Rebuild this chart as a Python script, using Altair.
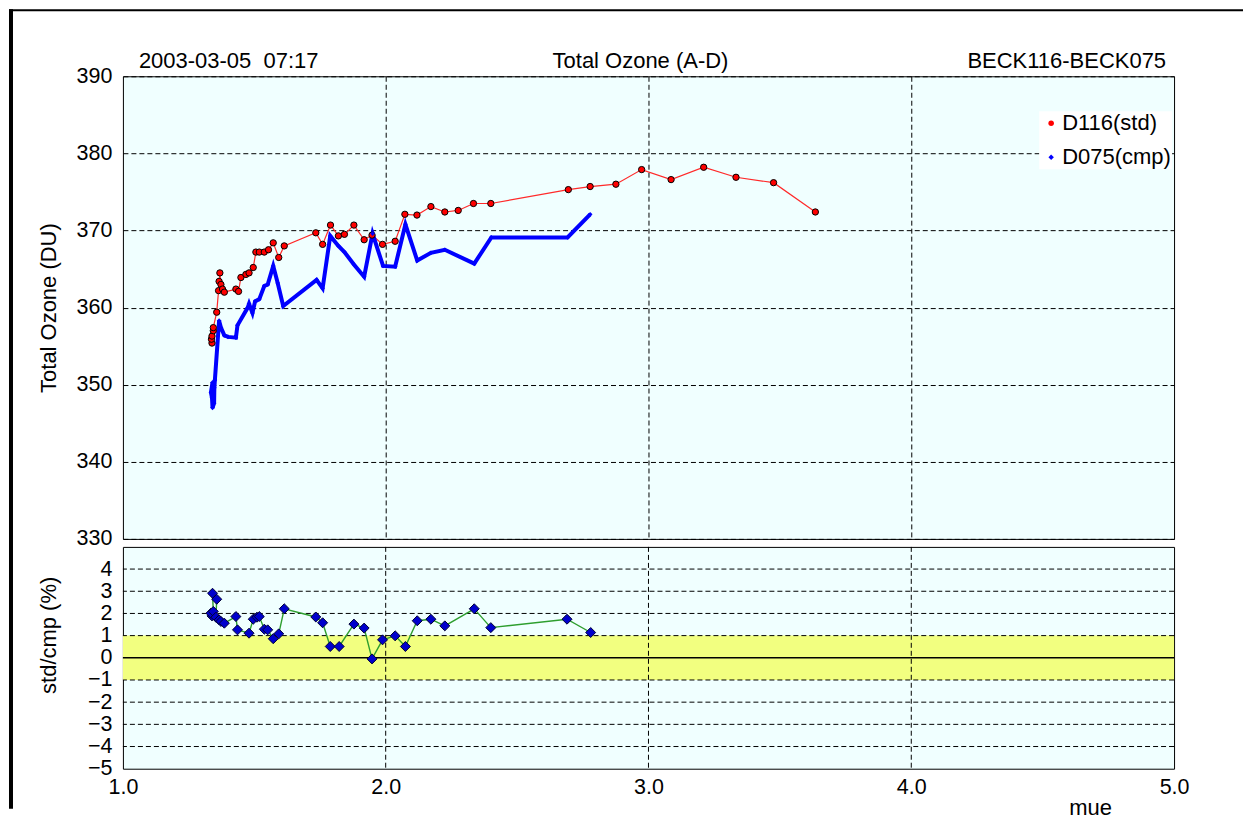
import altair as alt
import pandas as pd

FONT = "Liberation Sans"

# ---- data ----
std_name = "D116(std)"
cmp_name = "D075(cmp)"

std_mue = [1.339, 1.337, 1.339, 1.344, 1.344, 1.357, 1.364, 1.366, 1.369, 1.373,
           1.379, 1.386, 1.430, 1.440, 1.449, 1.468, 1.480, 1.496, 1.506, 1.519,
           1.538, 1.554, 1.572, 1.593, 1.614, 1.734, 1.760, 1.790, 1.820, 1.843,
           1.879, 1.918, 1.948, 1.988, 2.036, 2.073, 2.119, 2.172, 2.225, 2.276,
           2.334, 2.400, 2.695, 2.778, 2.876, 2.974, 3.086, 3.210, 3.333, 3.476, 3.635]
std_o3 = [355.4, 355.9, 356.3, 357.0, 357.4, 359.4, 362.2, 363.4, 364.5, 363.0,
          362.4, 362.0, 362.4, 362.1, 363.9, 364.3, 364.5, 365.2, 367.2, 367.2,
          367.2, 367.5, 368.4, 366.5, 368.0, 369.7, 368.2, 370.7, 369.3, 369.5,
          370.7, 368.8, 369.4, 368.2, 368.6, 372.1, 372.0, 373.1, 372.4, 372.6,
          373.5, 373.5, 375.3, 375.7, 376.0, 377.9, 376.6, 378.2, 376.9, 376.2, 372.4]

cmp_mue = [1.341, 1.335, 1.339, 1.341, 1.347, 1.348, 1.350, 1.366, 1.373, 1.386,
           1.400, 1.430, 1.436, 1.475, 1.480, 1.493, 1.503, 1.519, 1.538, 1.551,
           1.572, 1.589, 1.610, 1.737, 1.760, 1.789, 1.820, 1.843, 1.879, 1.918,
           1.950, 1.990, 2.036, 2.075, 2.120, 2.172, 2.225, 2.337, 2.402, 2.692, 2.778]
cmp_o3 = [350.3, 349.0, 348.3, 347.0, 347.6, 349.6, 350.6, 358.3, 357.4, 356.4,
          356.2, 356.1, 357.7, 360.0, 360.5, 359.3, 360.8, 361.1, 362.8, 363.0,
          365.4, 363.2, 360.2, 363.6, 362.5, 369.3, 368.0, 367.2, 365.6, 364.0,
          369.6, 365.4, 365.3, 370.8, 366.1, 367.1, 367.5, 365.7, 369.1, 369.1, 372.1]

ratio_mue = [1.339, 1.335, 1.344, 1.341, 1.357, 1.354, 1.366, 1.373, 1.386, 1.430,
             1.436, 1.480, 1.496, 1.510, 1.519, 1.538, 1.551, 1.572, 1.593, 1.614,
             1.734, 1.760, 1.789, 1.823, 1.879, 1.918, 1.948, 1.988, 2.036, 2.075,
             2.120, 2.172, 2.225, 2.337, 2.400, 2.690, 2.780]
ratio_pct = [1.89, 2.01, 2.09, 2.91, 2.64, 1.83, 1.71, 1.64, 1.56, 1.86,
             1.26, 1.11, 1.74, 1.83, 1.86, 1.29, 1.26, 0.86, 1.08, 2.21,
             1.84, 1.58, 0.51, 0.51, 1.52, 1.34, -0.05, 0.81, 0.99, 0.51,
             1.67, 1.74, 1.44, 2.21, 1.36, 1.74, 1.14]

x_ticks = [1.0, 2.0, 3.0, 4.0, 5.0]
x_grid = [2.0, 3.0, 4.0]
top_y_ticks = [330, 340, 350, 360, 370, 380, 390]
bot_y_ticks = [-5, -4, -3, -2, -1, 0, 1, 2, 3, 4]
bot_grid = [-4, -3, -2, -1, 1, 2, 3, 4]
band_lo, band_hi = -1, 1

header_left = "2003-03-05 \u00a007:17"
header_mid = "Total Ozone (A-D)"
header_right = "BECK116-BECK075"

# ---- tables ----
std_df = pd.DataFrame({"mue": std_mue, "o3": std_o3, "series": std_name, "i": range(len(std_mue))})
cmp_df = pd.DataFrame({"mue": cmp_mue, "o3": cmp_o3, "series": cmp_name, "i": range(len(cmp_mue))})
ratio_df = pd.DataFrame({"mue": ratio_mue, "pct": ratio_pct, "i": range(len(ratio_mue))})

W = 1052
H_TOP = 463
H_BOT = 222
TICK_FS = 21.5
TXT_FS = 22

xscale = alt.Scale(domain=[1, 5], nice=False, zero=False)

top_x = alt.X("mue:Q", scale=xscale,
              axis=alt.Axis(values=x_grid, labels=False, ticks=False, domain=False,
                            grid=True, gridDash=[5, 3], gridColor="black",
                            gridOpacity=1, gridWidth=1, title=None))
top_y = alt.Y("o3:Q", scale=alt.Scale(domain=[330, 390], nice=False, zero=False),
              axis=alt.Axis(values=top_y_ticks, ticks=False, domain=False, labelPadding=11,
                            grid=True, gridDash=[5, 3], gridColor="black", gridOpacity=1,
                            title="Total Ozone (DU)", titleX=-74, titleY=H_TOP / 2,
                            titleAlign="center", titleBaseline="middle", titleAngle=270))

color_enc = alt.Color("series:N",
                      scale=alt.Scale(domain=[std_name, cmp_name], range=["#FF0000", "#0000FF"]),
                      legend=alt.Legend(title=None, orient="none", legendX=917, legendY=35,
                                        labelFontSize=TXT_FS, labelFont=FONT, labelColor="black",
                                        symbolSize=30, symbolStrokeWidth=0, rowPadding=12,
                                        fillColor="white", padding=1, labelOffset=0))
shape_enc = alt.Shape("series:N",
                      scale=alt.Scale(domain=[std_name, cmp_name], range=["circle", "diamond"]),
                      legend=alt.Legend(title=None, orient="none", legendX=917, legendY=35))

red_line = alt.Chart(std_df).mark_line(color="#FF2A2A", strokeWidth=1.2).encode(
    x=top_x, y=top_y, order="i:Q")
red_pts = alt.Chart(std_df).mark_point(filled=True, size=40, stroke="black", strokeWidth=1,
                                       opacity=1).encode(
    x=top_x, y=top_y, color=color_enc, shape=shape_enc)
blue_line = alt.Chart(cmp_df).mark_line(color="#0000FF", strokeWidth=4).encode(
    x=top_x, y=top_y, order="i:Q")
blue_pts = alt.Chart(cmp_df).mark_point(filled=True, size=22, strokeWidth=0, opacity=1).encode(
    x=top_x, y=top_y, color=color_enc, shape=shape_enc)


def header(txt, xpos, align):
    return alt.Chart(pd.DataFrame({"t": [txt]})).mark_text(
        align=align, baseline="middle", font=FONT, fontSize=TXT_FS, color="black").encode(
        text="t:N", x=alt.value(xpos), y=alt.value(-15))


def frame_rect(x0, x1, y0, y1):
    return alt.Chart(pd.DataFrame({"k": [0]})).mark_rect(
        color="black", strokeWidth=0, opacity=1).encode(
        x=alt.value(x0), x2=alt.value(x1), y=alt.value(y0), y2=alt.value(y1))


top = alt.layer(
    red_line, blue_line, red_pts, blue_pts,
    header(header_left, 16, "left"),
    header(header_mid, 518, "center"),
    header(header_right, 1044, "right"),
    frame_rect(-114, -110, -67, 733),
    frame_rect(-114, 1121, -67, -65),
).properties(width=W, height=H_TOP)

# ---- bottom panel ----
bot_x_axis = alt.Axis(values=x_ticks, format=".1f", ticks=False, domain=False, grid=False,
                      labelPadding=8, labelFlush=False,
                      title="mue", titleX=968, titleY=46, titleAlign="center",
                      titleBaseline="alphabetic")
bot_y_axis = alt.Axis(values=bot_y_ticks, ticks=False, domain=False, grid=False,
                      labelPadding=11, title="std/cmp (%)", titleX=-74, titleY=88,
                      titleAlign="center", titleBaseline="middle", titleAngle=270)
bot_yscale = alt.Scale(domain=[-5, 5], nice=False, zero=False)

band = alt.Chart(pd.DataFrame({"x": [1.0], "x2": [5.0], "y": [band_lo], "y2": [band_hi]})).mark_rect(
    color="#F2FF80", opacity=1).encode(
    x=alt.X("x:Q", scale=xscale, axis=bot_x_axis), x2="x2:Q",
    y=alt.Y("y:Q", scale=bot_yscale, axis=bot_y_axis), y2="y2:Q")
hgrid = alt.Chart(pd.DataFrame({"y": bot_grid})).mark_rule(
    color="black", strokeWidth=1, strokeDash=[5, 3]).encode(
    y=alt.Y("y:Q", scale=bot_yscale, axis=bot_y_axis))
vgrid = alt.Chart(pd.DataFrame({"x": x_grid})).mark_rule(
    color="black", strokeWidth=1, strokeDash=[5, 3]).encode(
    x=alt.X("x:Q", scale=xscale, axis=bot_x_axis))
zero = alt.Chart(pd.DataFrame({"y": [0]})).mark_rule(color="black", strokeWidth=1.5).encode(
    y=alt.Y("y:Q", scale=bot_yscale, axis=bot_y_axis))
green = alt.Chart(ratio_df).mark_line(color="#2E9E2E", strokeWidth=1.4).encode(
    x=alt.X("mue:Q", scale=xscale, axis=bot_x_axis),
    y=alt.Y("pct:Q", scale=bot_yscale, axis=bot_y_axis), order="i:Q")
diam = alt.Chart(ratio_df).mark_point(shape="diamond", filled=True, size=100, fill="#0000CC",
                                      stroke="#000033", strokeWidth=1, opacity=1).encode(
    x=alt.X("mue:Q", scale=xscale, axis=bot_x_axis),
    y=alt.Y("pct:Q", scale=bot_yscale, axis=bot_y_axis))

bottom = alt.layer(band, hgrid, vgrid, zero, green, diam).properties(width=W, height=H_BOT)

chart = alt.vconcat(top, bottom, spacing=8, bounds="flush").properties(
    padding=0, background="white"
).configure_view(
    fill="#F0FFFF", stroke="black", strokeWidth=1
).configure_axis(
    labelFont=FONT, titleFont=FONT, labelFontSize=TICK_FS, titleFontSize=TXT_FS,
    labelColor="black", titleColor="black", titleFontWeight="normal"
)

chart.save("out.html", embed_options={"renderer": "svg", "actions": False})
